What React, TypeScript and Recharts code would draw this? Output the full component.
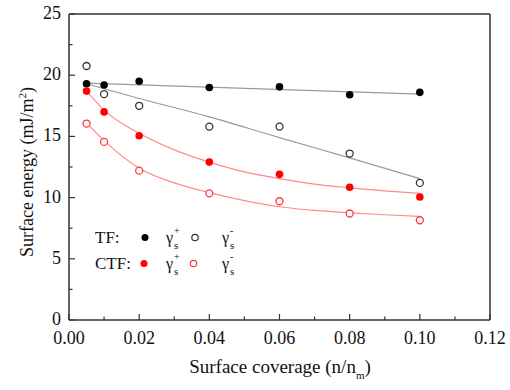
import React from 'react';
import { ComposedChart, Scatter, Line, XAxis, YAxis, ReferenceLine } from 'recharts';

// measured coverages (n/nm)
const coverage = [0.005, 0.01, 0.02, 0.04, 0.06, 0.08, 0.1];
const tfPlus = [19.3, 19.2, 19.5, 19.0, 19.05, 18.4, 18.6];
const tfMinus = [20.75, 18.45, 17.5, 15.8, 15.8, 13.6, 11.2];
const ctfPlus = [18.7, 17.0, 15.05, 12.9, 11.9, 10.85, 10.05];
const ctfMinus = [16.05, 14.55, 12.2, 10.35, 9.7, 8.7, 8.15];

// fitted curves
const tfPlusFitX = [0.005, 0.1];
const tfPlusFit = [19.35, 18.45];
const tfMinusFitX = [0.005, 0.02, 0.04, 0.06, 0.08, 0.1];
const tfMinusFit = [19.3, 18.1, 16.6, 14.9, 13.25, 11.55];
const ctfFitX = [0.005, 0.01, 0.02, 0.03, 0.04, 0.05, 0.06, 0.07, 0.08, 0.09, 0.1];
const ctfPlusFit = [18.7, 17.15, 15.25, 13.9, 12.9, 12.1, 11.55, 11.1, 10.8, 10.55, 10.35];
const ctfMinusFit = [16.1, 14.65, 12.4, 11.2, 10.4, 9.75, 9.25, 8.95, 8.75, 8.6, 8.47];

const xTicks = [0, 0.01, 0.02, 0.03, 0.04, 0.05, 0.06, 0.07, 0.08, 0.09, 0.1, 0.11, 0.12];
const yTicks = [0, 2.5, 5, 7.5, 10, 12.5, 15, 17.5, 20, 22.5, 25];

const FONT = '"Liberation Serif", "Times New Roman", serif';
const AXIS = '#333';

const toPoints = (xs: number[], ys: number[]) => xs.map((x, i) => ({ x, y: ys[i] }));

const XTick = (props: any) => {
  const { x, y, payload } = props;
  const v = payload.value as number;
  const major = Math.round(v * 100) % 2 === 0;
  return (
    <g>
      <line x1={x} x2={x} y1={y} y2={y - (major ? 6 : 3.5)} stroke={AXIS} strokeWidth={1.2} />
      {major && (
        <text x={x} y={y + 24} textAnchor="middle" fontSize={18} fontFamily={FONT} fill="#111">
          {v.toFixed(2)}
        </text>
      )}
    </g>
  );
};

const YTick = (props: any) => {
  const { x, y, payload } = props;
  const v = payload.value as number;
  const major = v % 5 === 0;
  return (
    <g>
      <line x1={x} x2={x + (major ? 6 : 3.5)} y1={y} y2={y} stroke={AXIS} strokeWidth={1.2} />
      {major && (
        <text x={x - 8} y={y + 5} textAnchor="end" fontSize={18} fontFamily={FONT} fill="#111">
          {v}
        </text>
      )}
    </g>
  );
};

const Gamma = ({ x, y, sign }: { x: number; y: number; sign: string }) => (
  <g fontFamily={FONT} fill="#111">
    <text x={x} y={y} fontSize={16}>γ</text>
    <text x={x + 8} y={y + 6} fontSize={11}>s</text>
    <text x={x + 8} y={y - 9} fontSize={10}>{sign}</text>
  </g>
);

const Overlay = () => (
  <svg width={510} height={390} style={{ position: 'absolute', left: 0, top: 0, pointerEvents: 'none' }}>
    <text
      transform="translate(33,172) rotate(-90)"
      textAnchor="middle"
      fontSize={18}
      fontFamily={FONT}
      fill="#111"
    >
      Surface energy (mJ/m
      <tspan fontSize={11} dy={-7}>2</tspan>
      <tspan dy={7}>)</tspan>
    </text>
    <text x={280} y={373} textAnchor="middle" fontSize={19} fontFamily={FONT} fill="#111">
      Surface coverage (n/n
      <tspan fontSize={11} dy={6}>m</tspan>
      <tspan dy={-6}>)</tspan>
    </text>
    <text x={95} y={243} fontSize={17} fontFamily={FONT} fill="#111">TF:</text>
    <circle cx={145} cy={237.5} r={3.5} fill="#000" />
    <Gamma x={166} y={243} sign="+" />
    <circle cx={195} cy={237.5} r={3.2} fill="#fff" stroke="#333" strokeWidth={1.2} />
    <Gamma x={222} y={243} sign="-" />
    <text x={95} y={269} fontSize={17} fontFamily={FONT} fill="#111">CTF:</text>
    <circle cx={144} cy={263.5} r={3.5} fill="#ff0000" />
    <Gamma x={166} y={269} sign="+" />
    <circle cx={193.5} cy={263.5} r={3.2} fill="#fff" stroke="#ff3a3a" strokeWidth={1.2} />
    <Gamma x={222} y={269} sign="-" />
  </svg>
);

const filled = (color: string) => (p: any) => <circle cx={p.cx} cy={p.cy} r={3.8} fill={color} />;
const hollow = (color: string) => (p: any) => (
  <circle cx={p.cx} cy={p.cy} r={3.5} fill="#fff" stroke={color} strokeWidth={1.3} />
);

export default function App() {
  return (
    <div style={{ position: 'absolute', left: 0, top: 0, width: 510, height: 390, background: '#fff' }}>
      <ComposedChart width={510} height={390} margin={{ top: 14, right: 20, bottom: 0, left: 0 }}>
        <XAxis
          dataKey="x"
          type="number"
          domain={[0, 0.12]}
          ticks={xTicks}
          interval={0}
          tick={<XTick />}
          tickLine={false}
          tickSize={0}
          tickMargin={0}
          height={70}
          axisLine={{ stroke: AXIS, strokeWidth: 1.5 }}
          allowDataOverflow
        />
        <YAxis
          dataKey="y"
          type="number"
          domain={[0, 25]}
          ticks={yTicks}
          interval={0}
          tick={<YTick />}
          tickLine={false}
          tickSize={0}
          tickMargin={0}
          width={69}
          axisLine={{ stroke: AXIS, strokeWidth: 1.5 }}
          allowDataOverflow
        />
        <ReferenceLine y={25} stroke={AXIS} strokeWidth={1.5} />
        <ReferenceLine x={0.12} stroke={AXIS} strokeWidth={1.5} />
        <Line data={toPoints(tfPlusFitX, tfPlusFit)} dataKey="y" type="linear" stroke="#9a9a9a" strokeWidth={1.2} dot={false} isAnimationActive={false} />
        <Line data={toPoints(tfMinusFitX, tfMinusFit)} dataKey="y" type="monotone" stroke="#9a9a9a" strokeWidth={1.2} dot={false} isAnimationActive={false} />
        <Line data={toPoints(ctfFitX, ctfPlusFit)} dataKey="y" type="monotone" stroke="#ff8a8a" strokeWidth={1.2} dot={false} isAnimationActive={false} />
        <Line data={toPoints(ctfFitX, ctfMinusFit)} dataKey="y" type="monotone" stroke="#ff8a8a" strokeWidth={1.2} dot={false} isAnimationActive={false} />
        <Scatter data={toPoints(coverage, tfMinus)} dataKey="y" shape={hollow('#333')} isAnimationActive={false} />
        <Scatter data={toPoints(coverage, ctfMinus)} dataKey="y" shape={hollow('#ff3a3a')} isAnimationActive={false} />
        <Scatter data={toPoints(coverage, tfPlus)} dataKey="y" shape={filled('#000')} isAnimationActive={false} />
        <Scatter data={toPoints(coverage, ctfPlus)} dataKey="y" shape={filled('#ff0000')} isAnimationActive={false} />
      </ComposedChart>
      <Overlay />
    </div>
  );
}
